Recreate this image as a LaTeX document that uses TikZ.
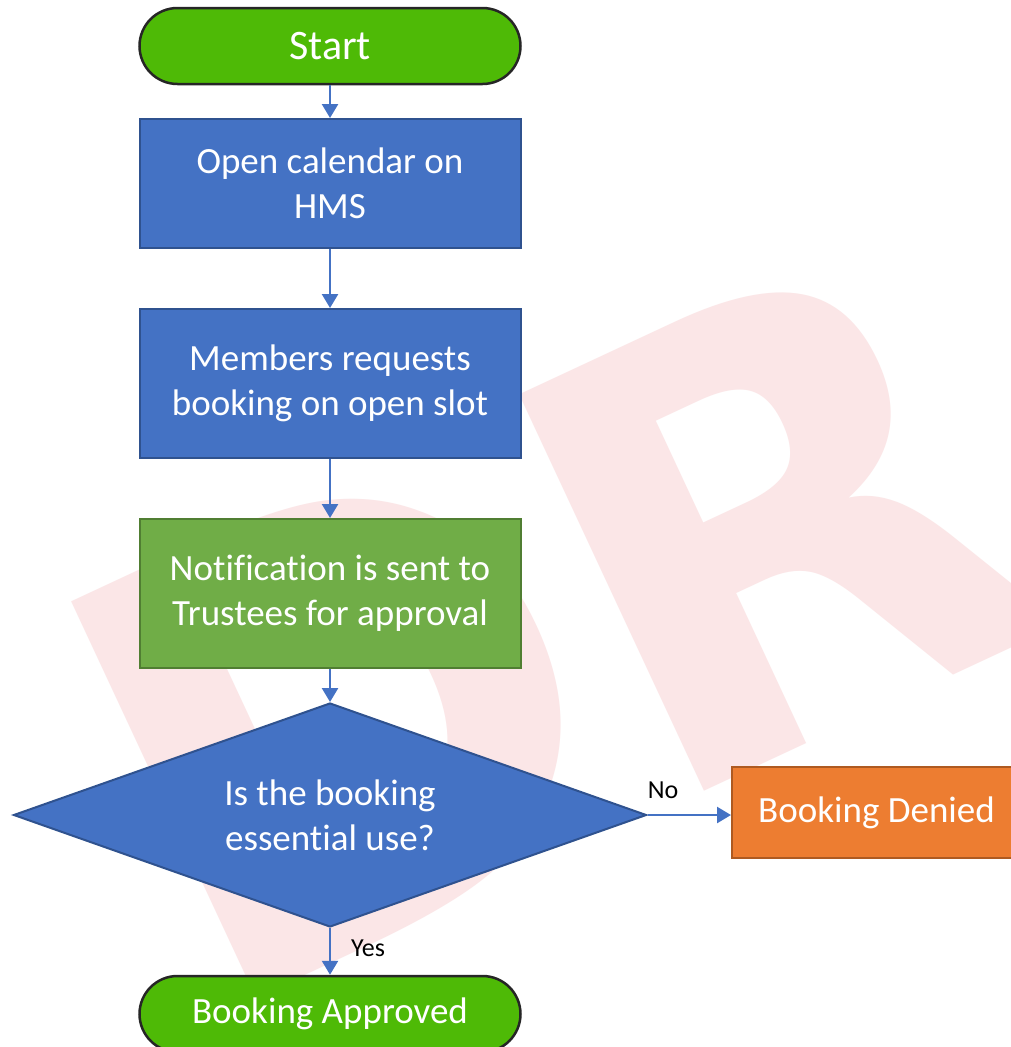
\documentclass[tikz,border=0pt]{standalone}
\usepackage{fontspec}
\setmainfont{Carlito}[Ligatures=NoCommon]
\newfontfamily\wmfont{DejaVu Sans}
\usetikzlibrary{shapes.geometric,arrows.meta}
\definecolor{blueF}{HTML}{4472C4}
\definecolor{blueD}{HTML}{2F528F}
\definecolor{greenF}{HTML}{70AD47}
\definecolor{greenD}{HTML}{507E32}
\definecolor{orangeF}{HTML}{ED7D31}
\definecolor{orangeD}{HTML}{AE5A21}
\definecolor{termF}{RGB}{78,186,6}
\definecolor{termD}{HTML}{262626}
\definecolor{wmpink}{RGB}{251,230,231}
\definecolor{arrowC}{HTML}{4472C4}
\begin{document}
\begin{tikzpicture}[x=1pt,y=-1pt,
  watermark/.style={text=wmpink, inner sep=0pt, outer sep=0pt, anchor=north west, rotate=25,
    font=\wmfont\bfseries\fontsize{600}{600}\selectfont},
  procbox/.style={rectangle, draw=blueD, fill=blueF, line width=2pt, text=white,
    minimum width=381pt, align=center, inner sep=0pt,
    font=\fontsize{37}{45}\selectfont},
  greenbox/.style={procbox, draw=greenD, fill=greenF},
  orangebox/.style={procbox, draw=orangeD, fill=orangeF},
  termbox/.style={rectangle, rounded corners=38pt, draw=termD, fill=termF, line width=2.5pt,
    text=white, minimum width=381pt, minimum height=76pt, inner sep=0pt, align=center},
  decisionbox/.style={diamond, aspect=2.83, draw=blueD, fill=blueF, line width=2pt, text=white,
    minimum width=633pt, minimum height=224pt, inner sep=0pt, align=center,
    font=\fontsize{37}{45}\selectfont},
  conn/.style={draw=arrowC, line width=2.5pt, -{Triangle[width=16pt,length=14pt]}},
  edgelabel/.style={text=black, inner sep=0pt, font=\fontsize{26}{30}\selectfont}
]
\useasboundingbox (0,0) rectangle (1010,1047);
\fill[white] (0,0) rectangle (1010,1047);

% watermark
\node[watermark] (wmD) at (22,625) {D};
\node[watermark] (wmR) at (470,418) {R};

% nodes
\node[termbox, font=\fontsize{42}{50}\selectfont] (start) at (330,46) {Start};
\node[procbox, minimum height=129pt] (open) at (330,183.5) {Open calendar on\\HMS};
\node[procbox, minimum height=149pt] (req) at (330,383.5) {Members requests\\booking on open slot};
\node[greenbox, minimum height=149pt] (notif) at (330,593.5) {Notification is sent to\\Trustees for approval};
\node[decisionbox] (dec) at (330,815) {Is the booking\\essential use?};
\node[orangebox, minimum width=289pt, minimum height=91pt] (denied) at (876.5,812.5) {Booking Denied};
\node[termbox, font=\fontsize{37}{45}\selectfont] (appr) at (330,1014) {Booking Approved};

% connectors
\draw[conn] (start) -- (open);
\draw[conn] (open) -- (req);
\draw[conn] (req) -- (notif);
\draw[conn] (notif) -- (dec);
\draw[conn] (dec.east) -- (dec.east -| denied.west);
\draw[conn] (dec.south) -- (dec.south |- appr.north);

% labels
\node[edgelabel] (nolabel) at (663,790) {No};
\node[edgelabel] (yeslabel) at (368,948) {Yes};
\end{tikzpicture}
\end{document}
